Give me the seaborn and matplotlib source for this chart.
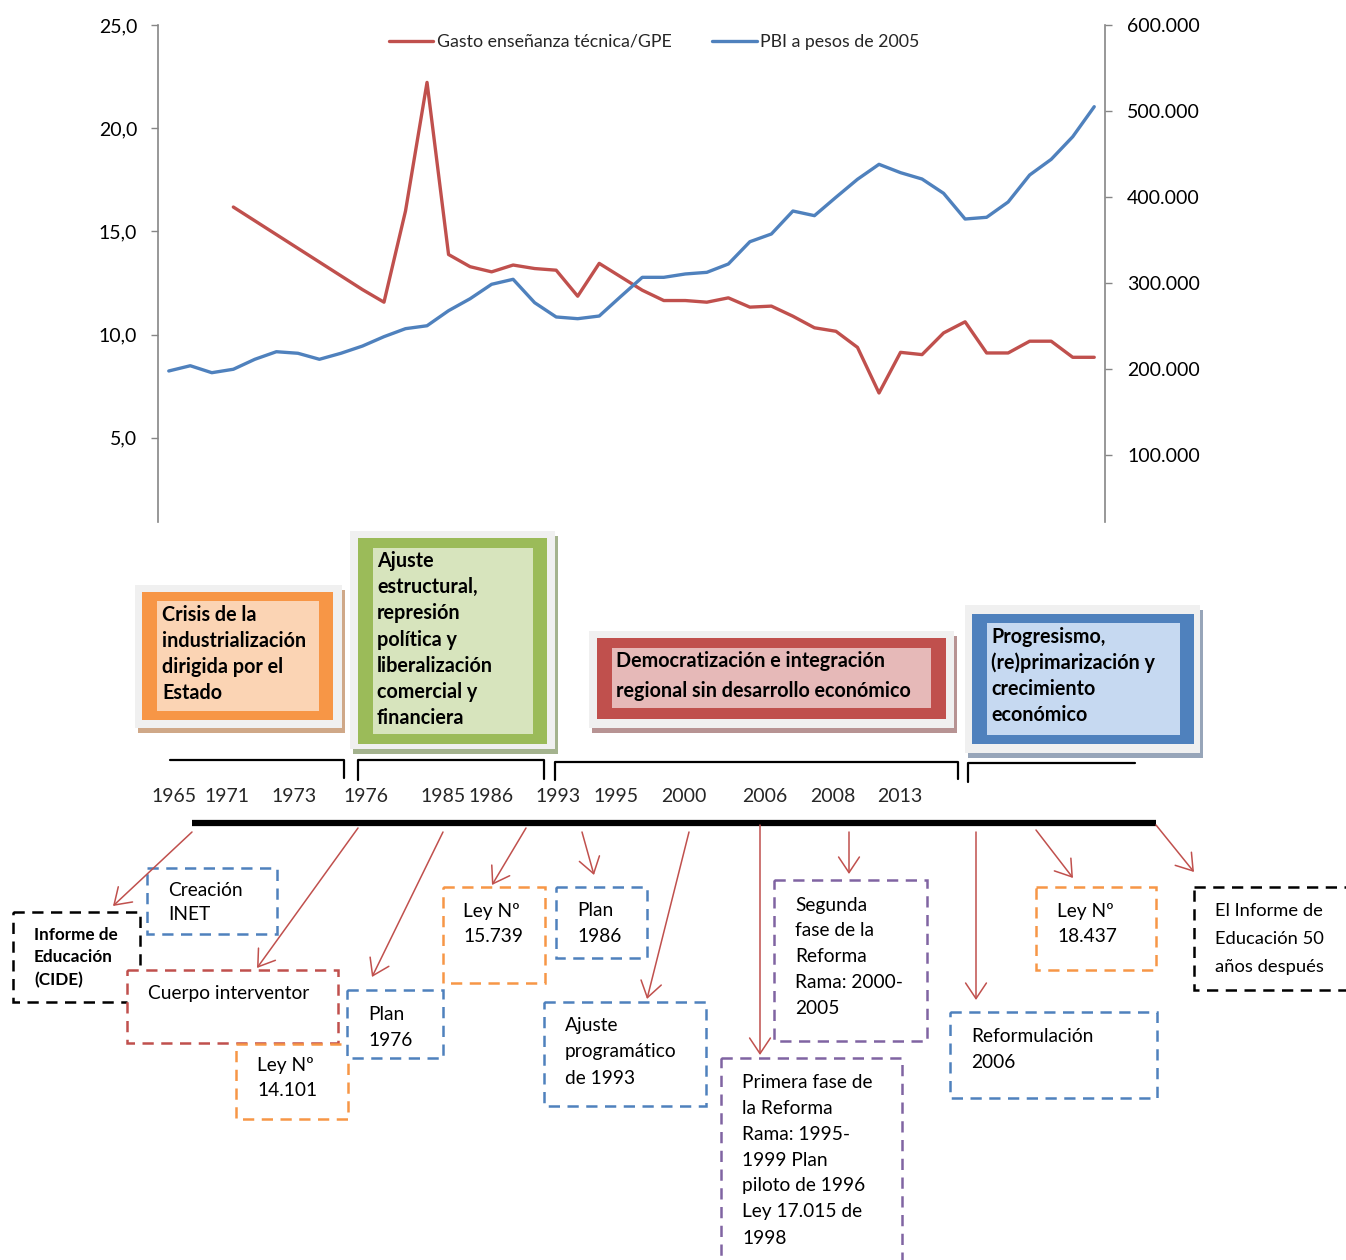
import numpy as np
import pandas as pd
import matplotlib
matplotlib.use("Agg")
import matplotlib.pyplot as plt
import seaborn as sns
from matplotlib.patches import Rectangle
from matplotlib.lines import Line2D

# ---------------- data ----------------
years = list(range(1965, 2009))
gasto = [None, None, None, 16.18, None, None, None, None, None, 12.18, 11.57, 15.99,
         22.22, 13.88, 13.29, 13.04, 13.37, 13.20, 13.12, 11.86, 13.45, 12.80, 12.15,
         11.65, 11.65, 11.57, 11.78, 11.33, 11.38, 10.89, 10.33, 10.16, 9.38, 7.17,
         9.14, 9.03, 10.08, 10.62, 9.11, 9.11, 9.68, 9.68, 8.90, 8.90]
pbi_miles = [197.7, 203.8, 195.7, 199.7, 211.3, 220.1, 218.3, 211.3, 218.3, 226.7,
             237.6, 246.9, 250.3, 267.8, 281.7, 298.5, 304.3, 277.1, 260.5, 258.5,
             261.6, 284.3, 306.6, 306.6, 310.5, 312.4, 322.1, 348.0, 357.0, 383.7,
             378.3, 399.7, 420.6, 438.0, 428.3, 420.9, 404.3, 374.4, 376.4, 394.2,
             425.6, 443.8, 470.1, 505.0]
series_names = ["Gasto enseñanza técnica/GPE", "PBI a pesos de 2005"]
left_ticks = [5, 10, 15, 20, 25]
left_labels = ["5,0", "10,0", "15,0", "20,0", "25,0"]
right_ticks = [100000, 200000, 300000, 400000, 500000, 600000]
right_labels = ["100.000", "200.000", "300.000", "400.000", "500.000", "600.000"]

timeline_years = ["1965", "1971", "1973", "1976", "1985", "1986", "1993", "1995",
                  "2000", "2006", "2008", "2013"]
phase_texts = ["Crisis de la\nindustrialización\ndirigida por el\nEstado",
               "Ajuste\nestructural,\nrepresión\npolítica y\nliberalización\ncomercial y\nfinanciera",
               "Democratización e integración\nregional sin desarrollo económico",
               "Progresismo,\n(re)primarización y\ncrecimiento\neconómico"]
event_texts = ["Informe de\nEducación\n(CIDE)", "Creación\nINET", "Cuerpo interventor",
               "Ley Nº\n14.101", "Plan\n1976", "Ley Nº\n15.739", "Plan\n1986",
               "Ajuste\nprogramático\nde 1993",
               "Segunda\nfase de la\nReforma\nRama: 2000-\n2005",
               "Primera fase de\nla Reforma\nRama: 1995-\n1999 Plan\npiloto de 1996\nLey 17.015 de\n1998",
               "Ley Nº\n18.437", "Reformulación\n2006",
               "El Informe de\nEducación 50\naños después"]

# ---------------- style ----------------
sns.set_style("white")
FONT = ["Lato", "DejaVu Sans"]
plt.rcParams["font.family"] = FONT

RED = "#c0504d"
BLUE = "#4f81bd"
ORANGE = "#f79646"
PURPLE = "#8064a2"
GREEN = "#9bbb59"
GRAY = "#868686"

W, H = 1346, 1260
fig = plt.figure(figsize=(W / 100, H / 100), dpi=100)

# ---------------- top chart ----------------
ax = fig.add_axes([158 / W, 1 - 522 / H, 947 / W, 497 / H])
axr = ax.twinx()

df = pd.DataFrame({"year": years, "gasto": gasto, "pbi": [v * 1000 for v in pbi_miles]})
df["gasto"] = pd.to_numeric(df["gasto"])
sns.lineplot(data=df.dropna(subset=["gasto"]), x="year", y="gasto", ax=ax,
             color=RED, lw=2.4, legend=False)
sns.lineplot(data=df, x="year", y="pbi", ax=axr, color=BLUE, lw=2.4, legend=False)

ax.set_xlim(years[0] - 0.5, years[-1] + 0.5)
ax.set_ylim(0.92, 25.0)
axr.set_ylim(22100, 600000)
ax.set_yticks(left_ticks)
ax.set_yticklabels(left_labels)
axr.set_yticks(right_ticks)
axr.set_yticklabels(right_labels)
ax.set_xticks([])
ax.set_xlabel("")
ax.set_ylabel("")
axr.set_ylabel("")
for a in (ax, axr):
    for s in ("top", "bottom"):
        a.spines[s].set_visible(False)
ax.spines["right"].set_visible(False)
axr.spines["left"].set_visible(False)
ax.spines["left"].set_color(GRAY)
axr.spines["right"].set_color(GRAY)
ax.spines["left"].set_linewidth(1.2)
axr.spines["right"].set_linewidth(1.2)
ax.tick_params(axis="y", left=True, length=5, width=1, color=GRAY, pad=10,
               labelsize=14, labelcolor="black")
axr.tick_params(axis="y", right=True, length=5, width=1, color=GRAY, pad=11,
                labelsize=14, labelcolor="black")
for lab in ax.get_yticklabels() + axr.get_yticklabels():
    lab.set_family(FONT)

handles = [Line2D([], [], color=RED, lw=2.4), Line2D([], [], color=BLUE, lw=2.4)]
axr.legend(handles, series_names, loc="center", bbox_to_anchor=(0.524, 0.966), ncol=2,
           frameon=False, fontsize=12.8, handlelength=2.5, handletextpad=0.2,
           columnspacing=2.3)

# ---------------- lower diagram (pixel coordinates) ----------------
ov = fig.add_axes([0, 0, 1, 1], zorder=5)
ov.set_xlim(0, W)
ov.set_ylim(H, 0)
ov.axis("off")


def rect(x0, y0, x1, y1, **kw):
    ov.add_patch(Rectangle((x0, y0), x1 - x0, y1 - y0, **kw))


def lines_text(x, y0, dy, text, size, weight="normal"):
    for i, line in enumerate(text.split("\n")):
        ov.text(x, y0 + i * dy, line, fontsize=size, fontweight=weight, ha="left",
                va="center", color="black", family=FONT, zorder=10)


# phase boxes
phase_layout = [
    dict(outer=(135, 585, 342, 728), border=(142, 592, 333, 720), inner=(157, 601, 319, 711),
         bc=ORANGE, ic="#fbd4b4", sc="#cfa888", tx=162, ty=615, dy=26),
    dict(outer=(350, 531, 555, 749), border=(358, 538, 547, 744), inner=(373, 548, 533, 734),
         bc=GREEN, ic="#d7e4bd", sc="#a4b38e", tx=377, ty=561, dy=26.2),
    dict(outer=(589, 631, 954, 728), border=(597, 638, 946, 719), inner=(612, 648, 931, 708),
         bc=RED, ic="#e6b9b8", sc="#b79393", tx=616, ty=661, dy=30),
    dict(outer=(965, 605, 1200, 753), border=(972, 614, 1194, 744), inner=(987, 623, 1180, 735),
         bc=BLUE, ic="#c6d9f1", sc="#97a5b9", tx=991, ty=637, dy=26),
]
for txt, L in zip(phase_texts, phase_layout):
    x0, y0, x1, y1 = L["outer"]
    rect(x0 + 3, y0 + 5, x1 + 3, y1 + 5, fc=L["sc"], ec="none", zorder=1)
    rect(x0, y0, x1, y1, fc="#f0f0f0", ec="none", zorder=2)
    rect(*L["border"], fc=L["bc"], ec="none", zorder=3)
    rect(*L["inner"], fc=L["ic"], ec="none", zorder=4)
    lines_text(L["tx"], L["ty"], L["dy"], txt, 14.2, "bold")

# brackets
bracket_lw = 1.6
ov.plot([170, 344, 344], [760, 760, 778], color="black", lw=bracket_lw, zorder=3)
ov.plot([358, 358, 544, 544], [780, 760, 760, 779], color="black", lw=bracket_lw, zorder=3)
ov.plot([555, 555, 958, 958], [780, 762, 762, 779], color="black", lw=bracket_lw, zorder=3)
ov.plot([968, 968, 1135], [782, 763, 763], color="black", lw=bracket_lw, zorder=3)

year_x = [174, 227, 294, 366, 443, 491, 558, 616, 684, 765, 833, 900]
for yx, yl in zip(year_x, timeline_years):
    ov.text(yx, 796, yl, fontsize=14, ha="center", va="center", family=FONT)

# thick timeline
ov.plot([192, 1156], [823, 823], color="black", lw=4.5, solid_capstyle="butt", zorder=3)

# dashed event boxes
R = 13.8
event_layout = [
    dict(box=(13, 912, 140, 1002), c="black", tx=34, ty=935, dy=22.5, size=12.3, w="bold"),
    dict(box=(147, 868, 277, 934), c=BLUE, tx=168, ty=891, dy=24, size=R, w="normal"),
    dict(box=(127, 970, 338, 1043), c=RED, tx=148, ty=994, dy=26, size=R, w="normal"),
    dict(box=(236, 1044, 348, 1119), c=ORANGE, tx=257, ty=1065, dy=26, size=R, w="normal"),
    dict(box=(347, 990, 443, 1058), c=BLUE, tx=368, ty=1014, dy=26, size=R, w="normal"),
    dict(box=(443, 887, 545, 983), c=ORANGE, tx=463, ty=911, dy=26, size=R, w="normal"),
    dict(box=(556, 887, 647, 958), c=BLUE, tx=577, ty=911, dy=26, size=R, w="normal"),
    dict(box=(544, 1002, 706, 1106), c=BLUE, tx=565, ty=1026, dy=26, size=R, w="normal"),
    dict(box=(774, 880, 927, 1041), c=PURPLE, tx=795, ty=905, dy=26, size=R, w="normal"),
    dict(box=(721, 1058, 902, 1285), c=PURPLE, tx=742, ty=1082, dy=26, size=R, w="normal"),
    dict(box=(1036, 887, 1156, 970), c=ORANGE, tx=1057, ty=911, dy=26, size=R, w="normal"),
    dict(box=(950, 1012, 1157, 1098), c=BLUE, tx=971, ty=1037, dy=26, size=R, w="normal"),
    dict(box=(1194, 887, 1370, 990), c="black", tx=1215, ty=911, dy=28, size=13.2, w="normal"),
]
for txt, L in zip(event_texts, event_layout):
    x0, y0, x1, y1 = L["box"]
    ov.add_patch(Rectangle((x0, y0), x1 - x0, y1 - y0, fc="white", ec=L["c"], lw=1.8,
                           linestyle=(0, (4.5, 3)), zorder=5, clip_on=False))
    lines_text(L["tx"], L["ty"], L["dy"], txt, L["size"], L["w"])

# arrows (tail -> head)
arrows = [((192, 832), (113, 906)), ((358, 828), (257, 968)), ((443, 832), (372, 977)),
          ((526, 828), (492, 885)), ((582, 832), (594, 875)), ((689, 832), (647, 999)),
          ((760, 825), (760, 1055)), ((849, 832), (849, 874)), ((976, 832), (976, 1000)),
          ((1036, 830), (1073, 878)), ((1156, 825), (1194, 872))]
for tail, head in arrows:
    ov.annotate("", xy=head, xytext=tail,
                arrowprops=dict(arrowstyle="->,head_length=0.75,head_width=0.5",
                                color=RED, lw=1.1, mutation_scale=15,
                                shrinkA=0, shrinkB=0), zorder=8)

fig.savefig("out.png", dpi=100)
